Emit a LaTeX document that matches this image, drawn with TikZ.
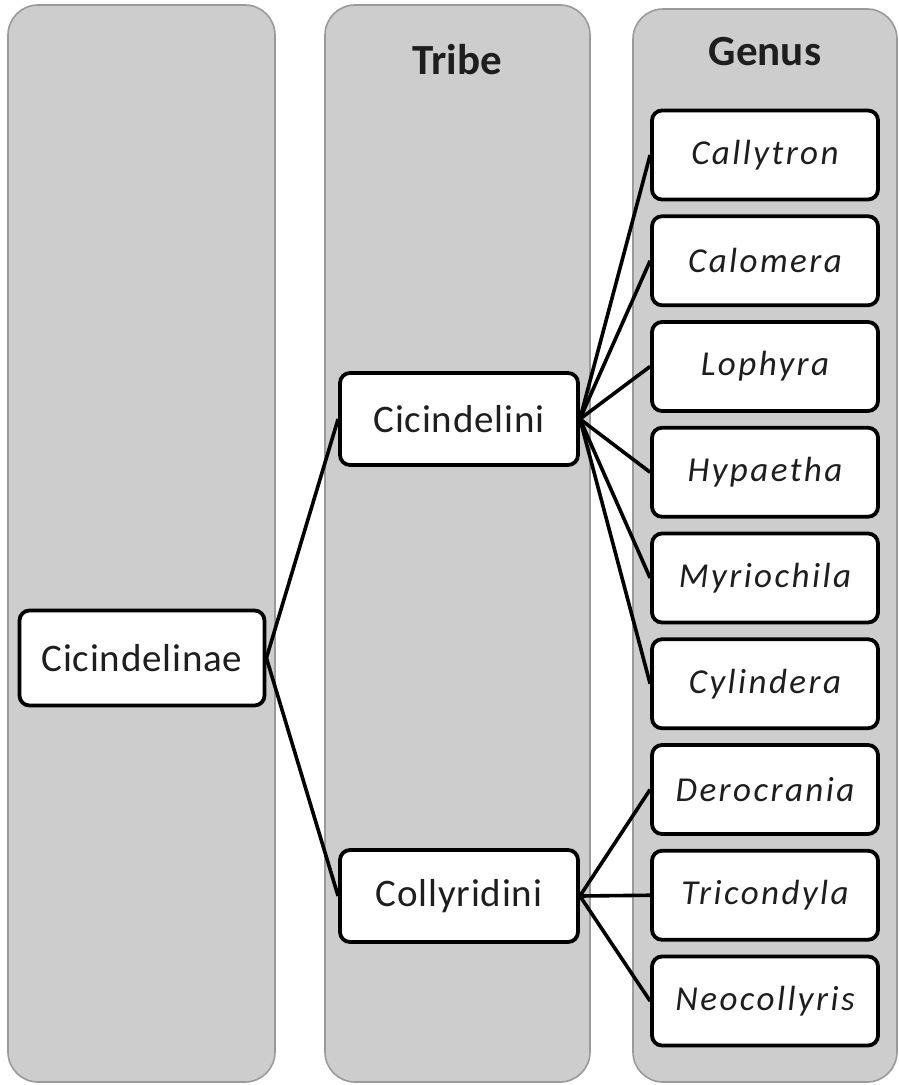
\documentclass[tikz,border=0pt]{standalone}
\usepackage{fontspec}
\setmainfont{Carlito}
\usetikzlibrary{positioning}
\definecolor{lanefill}{HTML}{CDCDCD}
\definecolor{laneedge}{HTML}{9A9A9A}
\definecolor{ink}{HTML}{1E1E1E}

\tikzset{
  lane/.style={draw=laneedge, fill=lanefill, line width=0.8pt, rounded corners=15pt},
  taxon/.style={draw=black, fill=white, text=ink, line width=1.9pt, rounded corners=5pt, inner sep=0pt},
  genusbox/.style={taxon, minimum width=113pt, minimum height=44.5pt,
    font=\fontsize{17.5}{19}\selectfont\itshape\addfontfeature{LetterSpace=7}},
  tribebox/.style={taxon, minimum width=119pt, minimum height=46pt,
    font=\fontsize{19.5}{21}\selectfont\addfontfeature{LetterSpace=2}},
  head/.style={text=ink, font=\fontsize{21.5}{23}\selectfont\bfseries},
  link/.style={line width=1.8pt}
}

\begin{document}
\begin{tikzpicture}[x=0.5pt,y=0.5pt]
\useasboundingbox (0,0) rectangle (898,-1085);
% columns
\draw[lane] (8,-5) rectangle (275,-1082);
\draw[lane] (325,-5) rectangle (590,-1082);
\draw[lane] (633,-9) rectangle (897,-1082);
\node[head] (tribehd) at (457,-60) {Tribe};
\node[head] (genushd) at (765,-52) {Genus};

% subfamily and tribes
\node[tribebox, minimum width=122.5pt, minimum height=47.5pt] (sub) at (142,-658) {Cicindelinae};
\node[tribebox] (cic) at (459,-419) {Cicindelini};
\node[tribebox] (col) at (459,-896) {Collyridini};

% genera
\foreach \name [count=\i] in {Callytron,Calomera,Lophyra,Hypaetha,Myriochila,Cylindera,Derocrania,Tricondyla,Neocollyris}
  \node[genusbox] (g\i) at (765,{-155-105.75*(\i-1)}) {\name};

\draw[link] (sub.east) -- (cic.west);
\draw[link] (sub.east) -- (col.west);
\foreach \i in {1,...,6} \draw[link] (cic.east) -- (g\i.west);
\foreach \i in {7,8,9} \draw[link] (col.east) -- (g\i.west);
\end{tikzpicture}
\end{document}
